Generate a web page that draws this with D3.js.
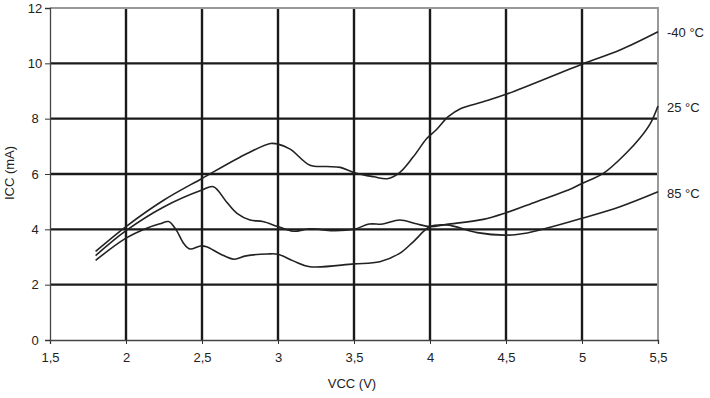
<!DOCTYPE html>
<html>
<head>
<meta charset="utf-8">
<script src="https://cdn.jsdelivr.net/npm/d3@7"></script>
<style>
  body { margin: 0; background: #fff; }
  text { font-family: "Liberation Sans", Arial, sans-serif; fill: #222; }
</style>
</head>
<body>
<div id="chart"></div>
<script>
var svgWidth = 710;
var svgHeight = 398;

var leftMargin = 50;
var rightMargin = 52;
var topMargin = 8;
var bottomMargin = 58;

var chartWidth = svgWidth - leftMargin - rightMargin;
var chartHeight = svgHeight - topMargin - bottomMargin;

var xTicks = [1.5, 2, 2.5, 3, 3.5, 4, 4.5, 5, 5.5];
var yTicks = [0, 2, 4, 6, 8, 10, 12];
var seriesNames = ['-40 °C', '25 °C', '85 °C'];

var vccMinus40 = [1.8, 2.0, 2.25, 2.5, 2.8, 2.95, 3.0, 3.08, 3.21, 3.32, 3.41, 3.5, 3.63, 3.72, 3.8, 3.89, 3.98, 4.04, 4.12, 4.2, 4.35, 4.5, 5.0, 5.25, 5.5];
var iccMinus40 = [3.2, 4.1, 5.06, 5.84, 6.75, 7.1, 7.08, 6.9, 6.32, 6.27, 6.24, 6.05, 5.9, 5.83, 6.05, 6.62, 7.29, 7.59, 8.07, 8.36, 8.61, 8.88, 9.97, 10.48, 11.14];

var vcc25 = [1.8, 2.0, 2.245, 2.5, 2.575, 2.66, 2.73, 2.816, 2.9, 3.0, 3.1, 3.21, 3.36, 3.5, 3.6, 3.69, 3.8, 3.91, 4.0, 4.11, 4.35, 4.5, 4.7, 4.91, 5.0, 5.14, 5.29, 5.38, 5.45, 5.5];
var icc25 = [3.05, 3.95, 4.8, 5.42, 5.54, 5.0, 4.58, 4.34, 4.28, 4.1, 3.93, 4.02, 3.95, 4.0, 4.19, 4.19, 4.34, 4.2, 4.1, 4.18, 4.36, 4.6, 5.0, 5.42, 5.66, 6.02, 6.75, 7.29, 7.83, 8.46];

var vcc85 = [1.8, 2.0, 2.136, 2.224, 2.28, 2.33, 2.38, 2.42, 2.49, 2.53, 2.62, 2.71, 2.79, 2.93, 3.0, 3.1, 3.21, 3.5, 3.67, 3.8, 3.89, 4.0, 4.11, 4.31, 4.5, 4.64, 4.74, 5.0, 5.25, 5.5];
var icc85 = [2.88, 3.68, 4.04, 4.2, 4.28, 3.98, 3.49, 3.29, 3.4, 3.37, 3.11, 2.92, 3.04, 3.11, 3.1, 2.86, 2.65, 2.75, 2.83, 3.13, 3.55, 4.1, 4.16, 3.88, 3.79, 3.87, 4.0, 4.4, 4.82, 5.36];

var series = [
    {name: seriesNames[0], x: vccMinus40, y: iccMinus40},
    {name: seriesNames[1], x: vcc25, y: icc25},
    {name: seriesNames[2], x: vcc85, y: icc85}
];

var svg = d3.select("#chart")
    .append("svg")
    .attr("width", svgWidth)
    .attr("height", svgHeight);

var chart = svg.append("g")
    .attr("transform", `translate(${leftMargin}, ${topMargin})`);

var xScale = d3.scaleLinear()
    .domain([1.5, 5.5])
    .range([0, chartWidth]);
var yScale = d3.scaleLinear()
    .domain([0, 12])
    .range([chartHeight, 0]);

var fmt = d => String(d).replace('.', ',');

// grid
chart.append("g")
    .selectAll("line")
    .data(xTicks.slice(1, -1))
    .enter()
    .append("line")
    .attr("x1", d => xScale(d))
    .attr("x2", d => xScale(d))
    .attr("y1", 0)
    .attr("y2", chartHeight)
    .attr("stroke", "#1a1a1a")
    .attr("stroke-width", 2.4);

chart.append("g")
    .selectAll("line")
    .data(yTicks.slice(1, -1))
    .enter()
    .append("line")
    .attr("x1", 0)
    .attr("x2", chartWidth)
    .attr("y1", d => yScale(d))
    .attr("y2", d => yScale(d))
    .attr("stroke", "#1a1a1a")
    .attr("stroke-width", 2.4);

// grey frame top / right
chart.append("path")
    .attr("d", `M0,${yScale(12)}H${xScale(5.5)}V${yScale(0)}`)
    .attr("fill", "none")
    .attr("stroke", "#999")
    .attr("stroke-width", 2);

// axes
var xAxis = d3.axisBottom(xScale)
    .tickValues(xTicks)
    .tickSize(4)
    .tickPadding(9)
    .tickFormat(fmt);
var yAxis = d3.axisLeft(yScale)
    .tickValues(yTicks)
    .tickSize(5)
    .tickPadding(0)
    .tickFormat(fmt);

var xg = chart.append("g")
    .attr("transform", `translate(0, ${chartHeight})`)
    .call(xAxis);
var yg = chart.append("g")
    .call(yAxis);

[xg, yg].forEach(function(g) {
    g.select(".domain").attr("stroke", "#444").attr("stroke-width", 1.3);
    g.selectAll(".tick line").attr("stroke", "#333");
    g.selectAll(".tick text")
        .attr("font-size", 13)
        .attr("fill", "#222")
        .style("font-family", '"Liberation Sans", Arial, sans-serif');
});
yg.selectAll(".tick text")
    .attr("text-anchor", "middle")
    .attr("x", -15);

// curves
var line = d3.line()
    .x(d => xScale(d[0]))
    .y(d => yScale(d[1]))
    .curve(d3.curveCatmullRom.alpha(0.5));

chart.append("g")
    .selectAll("path")
    .data(series)
    .enter()
    .append("path")
    .attr("d", s => line(s.x.map((v, i) => [v, s.y[i]])))
    .attr("fill", "none")
    .attr("stroke", "#222")
    .attr("stroke-width", 1.6);

// series labels at the right end
chart.append("g")
    .selectAll("text")
    .data(series)
    .enter()
    .append("text")
    .attr("x", chartWidth + 9)
    .attr("y", (s, i) => [29, 103.5, 189.5][i])
    .attr("font-size", 13)
    .text(s => s.name);

// axis titles
chart.append("text")
    .attr("transform", `translate(${chartWidth / 2 - 2}, ${chartHeight + 48})`)
    .attr("text-anchor", "middle")
    .attr("font-size", 13)
    .text("VCC (V)");

chart.append("text")
    .attr("transform", `translate(-36, ${yScale(6) - 1}) rotate(-90)`)
    .attr("text-anchor", "middle")
    .attr("font-size", 13)
    .text("ICC (mA)");
</script>
</body>
</html>
